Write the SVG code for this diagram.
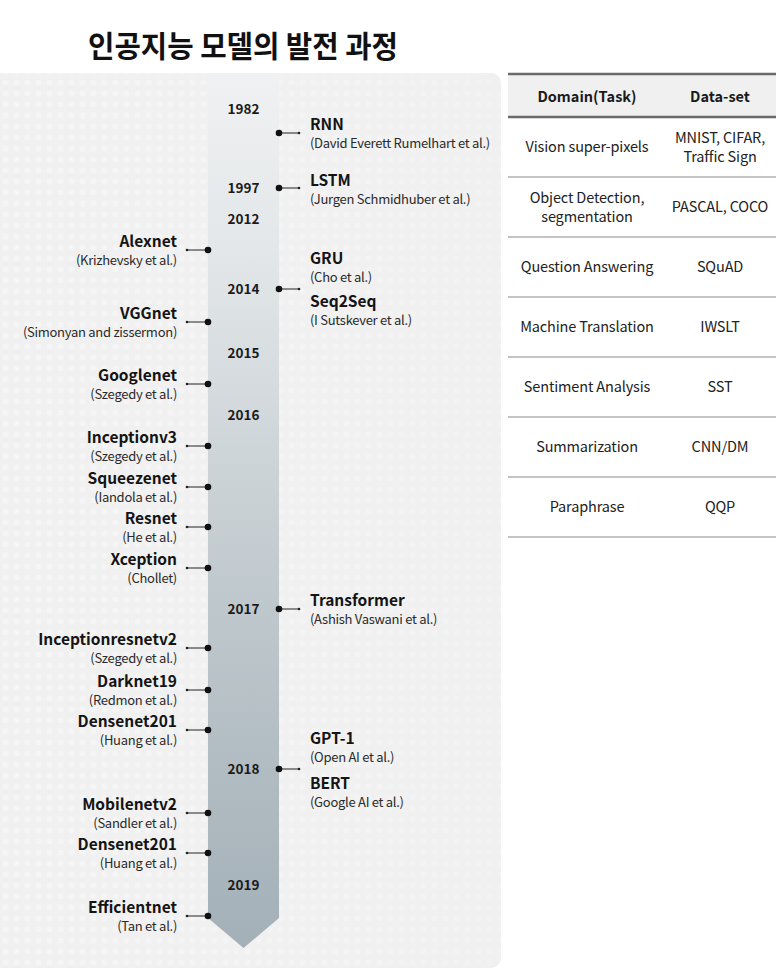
<svg xmlns="http://www.w3.org/2000/svg" width="776" height="980" viewBox="0 0 776 980">
<defs>
<style>
text{font-family:"Noto Sans CJK KR","Noto Sans",sans-serif;}
.h1{font-size:30px;font-weight:700;fill:#111;}
.yr{font-size:13.5px;font-weight:700;fill:#1a1a1a;text-anchor:middle;}
.t{font-size:15.5px;font-weight:700;fill:#141414;}
.s{font-size:13px;fill:#2a2a2a;letter-spacing:-0.28px;}
.l{text-anchor:end;}
.th{font-size:14.5px;font-weight:700;fill:#1a1a1a;text-anchor:middle;}
.td{font-size:14.5px;fill:#222;text-anchor:middle;letter-spacing:-0.15px;}
.ln{stroke:#222;stroke-width:1;}
.bd{fill:#111;}
.sd{fill:#222;}
.rule{stroke:#c4c4c4;stroke-width:2;}
.rule2{stroke:#6a6a6a;stroke-width:2.5;}
</style>
<pattern id="dots" x="0" y="0" width="11" height="11" patternUnits="userSpaceOnUse">
<circle cx="5.5" cy="5.5" r="3" fill="#ffffff" fill-opacity="0.3"/>
</pattern>
<linearGradient id="fade" x1="0" y1="0" x2="1" y2="0">
<stop offset="0" stop-color="#f3f3f3" stop-opacity="0"/>
<stop offset="1" stop-color="#f0f0f0" stop-opacity="0.6"/>
</linearGradient>
<linearGradient id="bar" x1="0" y1="73" x2="0" y2="948" gradientUnits="userSpaceOnUse">
<stop offset="0" stop-color="#f0f1f2"/>
<stop offset="0.2" stop-color="#e3e7e9"/>
<stop offset="0.6" stop-color="#bfc8cd"/>
<stop offset="1" stop-color="#a3b0b7"/>
</linearGradient>
</defs>
<rect width="776" height="980" fill="#ffffff"/>
<g id="title"><text class="h1" x="88" y="57" textLength="310" lengthAdjust="spacingAndGlyphs">인공지능 모델의 발전 과정</text></g>
<g id="panel">
<rect x="-12" y="73" width="513" height="895" rx="10" fill="#f0f0f0"/>
<rect x="-12" y="73" width="513" height="895" rx="10" fill="url(#dots)"/>
<rect x="-12" y="73" width="513" height="895" rx="10" fill="url(#fade)"/>
</g>
<g id="timeline-bar"><polygon points="208,73 279,73 279,918 243.5,948 208,918" fill="url(#bar)"/></g>
<g id="years">
<text class="yr" x="243.5" y="114">1982</text>
<text class="yr" x="243.5" y="193">1997</text>
<text class="yr" x="243.5" y="224">2012</text>
<text class="yr" x="243.5" y="294">2014</text>
<text class="yr" x="243.5" y="358">2015</text>
<text class="yr" x="243.5" y="420">2016</text>
<text class="yr" x="243.5" y="614">2017</text>
<text class="yr" x="243.5" y="774">2018</text>
<text class="yr" x="243.5" y="890">2019</text>
</g>
<g id="connectors">
<g id="left-connectors">
<line class="ln" x1="187" y1="250" x2="208" y2="250"/><circle class="sd" cx="187" cy="250" r="1.3"/><circle class="bd" cx="208" cy="250" r="3.3"/>
<line class="ln" x1="187" y1="322" x2="208" y2="322"/><circle class="sd" cx="187" cy="322" r="1.3"/><circle class="bd" cx="208" cy="322" r="3.3"/>
<line class="ln" x1="187" y1="384" x2="208" y2="384"/><circle class="sd" cx="187" cy="384" r="1.3"/><circle class="bd" cx="208" cy="384" r="3.3"/>
<line class="ln" x1="187" y1="446" x2="208" y2="446"/><circle class="sd" cx="187" cy="446" r="1.3"/><circle class="bd" cx="208" cy="446" r="3.3"/>
<line class="ln" x1="187" y1="487" x2="208" y2="487"/><circle class="sd" cx="187" cy="487" r="1.3"/><circle class="bd" cx="208" cy="487" r="3.3"/>
<line class="ln" x1="187" y1="527" x2="208" y2="527"/><circle class="sd" cx="187" cy="527" r="1.3"/><circle class="bd" cx="208" cy="527" r="3.3"/>
<line class="ln" x1="187" y1="568" x2="208" y2="568"/><circle class="sd" cx="187" cy="568" r="1.3"/><circle class="bd" cx="208" cy="568" r="3.3"/>
<line class="ln" x1="187" y1="648" x2="208" y2="648"/><circle class="sd" cx="187" cy="648" r="1.3"/><circle class="bd" cx="208" cy="648" r="3.3"/>
<line class="ln" x1="187" y1="690" x2="208" y2="690"/><circle class="sd" cx="187" cy="690" r="1.3"/><circle class="bd" cx="208" cy="690" r="3.3"/>
<line class="ln" x1="187" y1="730" x2="208" y2="730"/><circle class="sd" cx="187" cy="730" r="1.3"/><circle class="bd" cx="208" cy="730" r="3.3"/>
<line class="ln" x1="187" y1="813" x2="208" y2="813"/><circle class="sd" cx="187" cy="813" r="1.3"/><circle class="bd" cx="208" cy="813" r="3.3"/>
<line class="ln" x1="187" y1="853" x2="208" y2="853"/><circle class="sd" cx="187" cy="853" r="1.3"/><circle class="bd" cx="208" cy="853" r="3.3"/>
<line class="ln" x1="187" y1="916" x2="208" y2="916"/><circle class="sd" cx="187" cy="916" r="1.3"/><circle class="bd" cx="208" cy="916" r="3.3"/>
</g>
<g id="right-connectors">
<line class="ln" x1="279" y1="133" x2="299" y2="133"/><circle class="sd" cx="299" cy="133" r="1.3"/><circle class="bd" cx="279" cy="133" r="3.3"/>
<line class="ln" x1="279" y1="188" x2="299" y2="188"/><circle class="sd" cx="299" cy="188" r="1.3"/><circle class="bd" cx="279" cy="188" r="3.3"/>
<line class="ln" x1="279" y1="289" x2="299" y2="289"/><circle class="sd" cx="299" cy="289" r="1.3"/><circle class="bd" cx="279" cy="289" r="3.3"/>
<line class="ln" x1="279" y1="609" x2="299" y2="609"/><circle class="sd" cx="299" cy="609" r="1.3"/><circle class="bd" cx="279" cy="609" r="3.3"/>
<line class="ln" x1="279" y1="769" x2="299" y2="769"/><circle class="sd" cx="299" cy="769" r="1.3"/><circle class="bd" cx="279" cy="769" r="3.3"/>
</g>
</g>
<g id="alexnet"><text class="t l" x="177" y="247">Alexnet</text><text class="s l" x="177" y="264.5">(Krizhevsky et al.)</text></g>
<g id="vggnet"><text class="t l" x="177" y="319">VGGnet</text><text class="s l" x="177" y="336.5">(Simonyan and zissermon)</text></g>
<g id="googlenet"><text class="t l" x="177" y="381">Googlenet</text><text class="s l" x="177" y="398.5">(Szegedy et al.)</text></g>
<g id="inceptionv3"><text class="t l" x="177" y="443">Inceptionv3</text><text class="s l" x="177" y="460.5">(Szegedy et al.)</text></g>
<g id="squeezenet"><text class="t l" x="177" y="484">Squeezenet</text><text class="s l" x="177" y="501.5">(Iandola et al.)</text></g>
<g id="resnet"><text class="t l" x="177" y="524">Resnet</text><text class="s l" x="177" y="541.5">(He et al.)</text></g>
<g id="xception"><text class="t l" x="177" y="565">Xception</text><text class="s l" x="177" y="582.5">(Chollet)</text></g>
<g id="inceptionresnetv2"><text class="t l" x="177" y="645">Inceptionresnetv2</text><text class="s l" x="177" y="662.5">(Szegedy et al.)</text></g>
<g id="darknet19"><text class="t l" x="177" y="687">Darknet19</text><text class="s l" x="177" y="704.5">(Redmon et al.)</text></g>
<g id="densenet201-a"><text class="t l" x="177" y="727">Densenet201</text><text class="s l" x="177" y="744.5">(Huang et al.)</text></g>
<g id="mobilenetv2"><text class="t l" x="177" y="810">Mobilenetv2</text><text class="s l" x="177" y="827.5">(Sandler et al.)</text></g>
<g id="densenet201-b"><text class="t l" x="177" y="850">Densenet201</text><text class="s l" x="177" y="867.5">(Huang et al.)</text></g>
<g id="efficientnet"><text class="t l" x="177" y="913">Efficientnet</text><text class="s l" x="177" y="930.5">(Tan et al.)</text></g>
<g id="rnn"><text class="t" x="310" y="130">RNN</text><text class="s" x="310" y="147.5">(David Everett Rumelhart et al.)</text></g>
<g id="lstm"><text class="t" x="310" y="186">LSTM</text><text class="s" x="310" y="203.5">(Jurgen Schmidhuber et al.)</text></g>
<g id="gru"><text class="t" x="310" y="264">GRU</text><text class="s" x="310" y="281.5">(Cho et al.)</text></g>
<g id="seq2seq"><text class="t" x="310" y="307">Seq2Seq</text><text class="s" x="310" y="324.5">(I Sutskever et al.)</text></g>
<g id="transformer"><text class="t" x="310" y="606">Transformer</text><text class="s" x="310" y="623.5">(Ashish Vaswani et al.)</text></g>
<g id="gpt1"><text class="t" x="310" y="744">GPT-1</text><text class="s" x="310" y="761.5">(Open AI et al.)</text></g>
<g id="bert"><text class="t" x="310" y="789">BERT</text><text class="s" x="310" y="806.5">(Google AI et al.)</text></g>
<g id="table">
<rect x="508" y="74" width="268" height="43" fill="#f0f0f0"/>
<line class="rule2" x1="508" y1="74" x2="776" y2="74"/>
<line class="rule2" x1="508" y1="117" x2="776" y2="117"/>
<line class="rule" x1="508" y1="177" x2="776" y2="177"/>
<line class="rule" x1="508" y1="237" x2="776" y2="237"/>
<line class="rule" x1="508" y1="297" x2="776" y2="297"/>
<line class="rule" x1="508" y1="357" x2="776" y2="357"/>
<line class="rule" x1="508" y1="417" x2="776" y2="417"/>
<line class="rule" x1="508" y1="477" x2="776" y2="477"/>
<line class="rule" x1="508" y1="537" x2="776" y2="537"/>
<text class="th" x="587" y="102">Domain(Task)</text>
<text class="th" x="720" y="102">Data-set</text>
<text class="td" x="587" y="152">Vision super-pixels</text>
<text class="td" x="720" y="143">MNIST, CIFAR,</text>
<text class="td" x="720" y="162">Traffic Sign</text>
<text class="td" x="587" y="203">Object Detection,</text>
<text class="td" x="587" y="222">segmentation</text>
<text class="td" x="720" y="212">PASCAL, COCO</text>
<text class="td" x="587" y="272">Question Answering</text>
<text class="td" x="720" y="272">SQuAD</text>
<text class="td" x="587" y="332">Machine Translation</text>
<text class="td" x="720" y="332">IWSLT</text>
<text class="td" x="587" y="392">Sentiment Analysis</text>
<text class="td" x="720" y="392">SST</text>
<text class="td" x="587" y="452">Summarization</text>
<text class="td" x="720" y="452">CNN/DM</text>
<text class="td" x="587" y="512">Paraphrase</text>
<text class="td" x="720" y="512">QQP</text>
</g>
</svg>
